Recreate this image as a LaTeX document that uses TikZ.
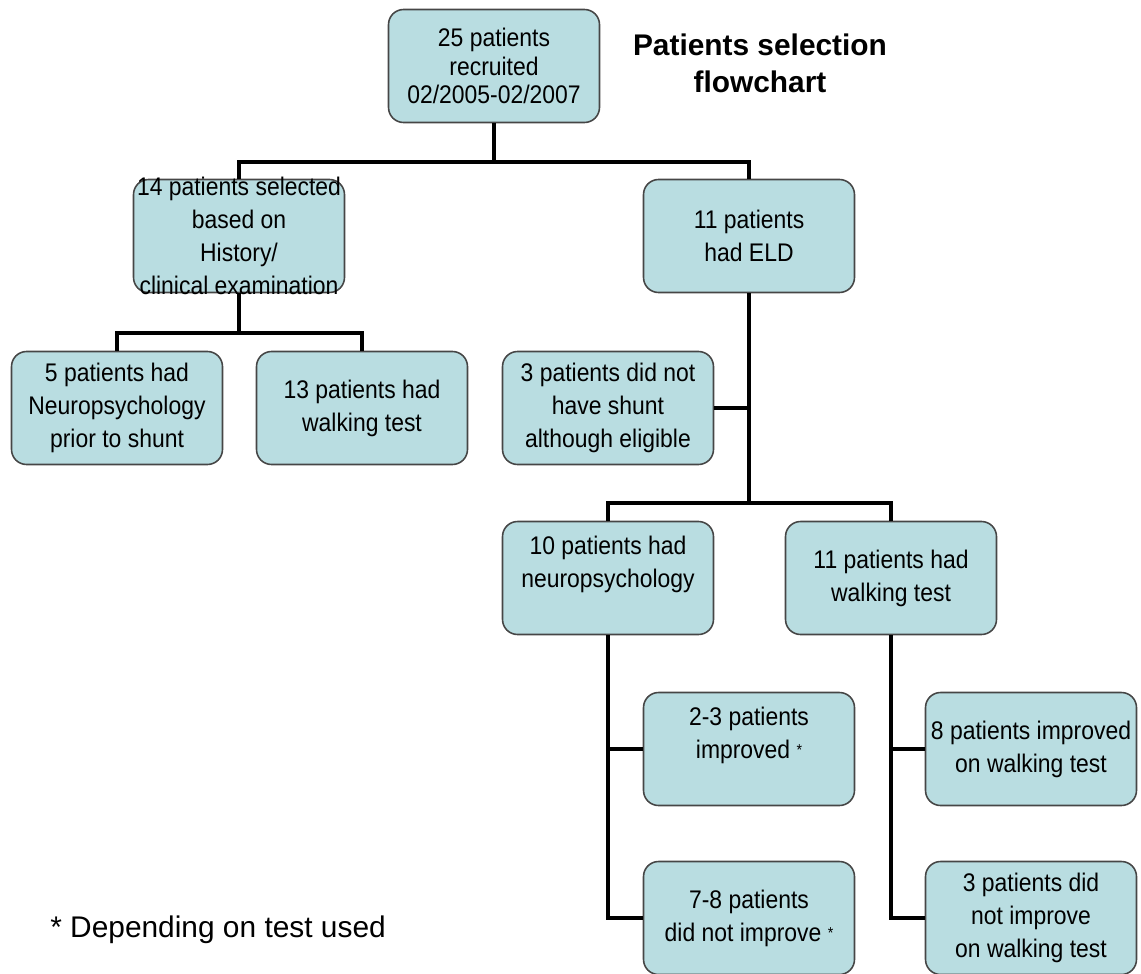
\documentclass[tikz,border=0pt]{standalone}
\usepackage{fontspec}
\setmainfont{Liberation Sans}[FakeStretch=0.9]
\newfontfamily\plainsans{Liberation Sans}
\usepackage{tikz}
\usetikzlibrary{calc}
\definecolor{boxfill}{RGB}{185,221,225}
\definecolor{boxline}{RGB}{70,70,70}
\tikzset{
  box/.style={draw=boxline, line width=0.9pt, fill=boxfill, rounded corners=0.3cm,
    minimum width=4.22cm, minimum height=2.26cm, inner sep=0pt, align=center,
    font=\fontsize{14.5}{18.8}\selectfont},
  txt/.style={align=center, inner sep=0pt, font=\fontsize{14.5}{18.8}\selectfont},
  link/.style={line width=2pt},
}

\begin{document}
\begin{tikzpicture}[x=0.02cm, y=-0.02cm]
\useasboundingbox (0,0) rectangle (1141,973);
% boxes
\node[box, font=\fontsize{14.5}{16}\selectfont] (top) at (494,66) {25 patients\\recruited\\02/2005-02/2007};
\node[box] (sel) at (239,236) {}; \node[txt] (selt) at (sel) {14 patients selected\\based on\\History/\\clinical examination};
\node[box] (eld) at (749,236) {11 patients\\had ELD};
\node[box] (neu5) at (117,408) {5 patients had\\Neuropsychology\\prior to shunt};
\node[box] (walk13) at (362,408) {13 patients had\\walking test};
\node[box] (noshunt) at (608,408) {3 patients did not\\have shunt\\although eligible};
\node[box] (neu10) at (608,578) {10 patients had\\neuropsychology\\\mbox{}};
\node[box] (walk11) at (891,578) {11 patients had\\walking test};
\node[box] (imp23) at (749,749) {2-3 patients\\improved \raisebox{0.2ex}{\small *}\\\mbox{}};
\node[box] (notimp78) at (749,918) {7-8 patients\\did not improve \raisebox{0.2ex}{\small *}};
\node[box] (imp8) at (1031,749) {8 patients improved\\on walking test};
\node[box] (notimp3) at (1031,918) {3 patients did\\not improve\\on walking test};
% links
\coordinate (j1) at (494,162); \coordinate (j2) at (239,333); \coordinate (j3) at (749,503);
\draw[link] (top.south) -- (j1); \draw[link] (sel.north) |- (j1) -| (eld.north);
\draw[link] (sel.south) -- (j2); \draw[link] (neu5.north) |- (j2) -| (walk13.north);
\draw[link] (eld.south) -- (j3); \draw[link] (noshunt.east) -- (noshunt.east -| eld.south);
\draw[link] (neu10.north) |- (j3) -| (walk11.north);
\draw[link] (neu10.south) |- (notimp78.west); \draw[link] (imp23.west) -- (imp23.west -| neu10.south);
\draw[link] (walk11.south) |- (notimp3.west); \draw[link] (imp8.west) -- (imp8.west -| walk11.south);
% texts
\node[align=center, font=\plainsans\bfseries\fontsize{17}{21}\selectfont] (title) at (760,63) {Patients selection\\flowchart};
\node[anchor=west, inner sep=0pt, font=\plainsans\fontsize{17}{20}\selectfont] (note) at (50,930) {* Depending on test used};
\end{tikzpicture}
\end{document}
